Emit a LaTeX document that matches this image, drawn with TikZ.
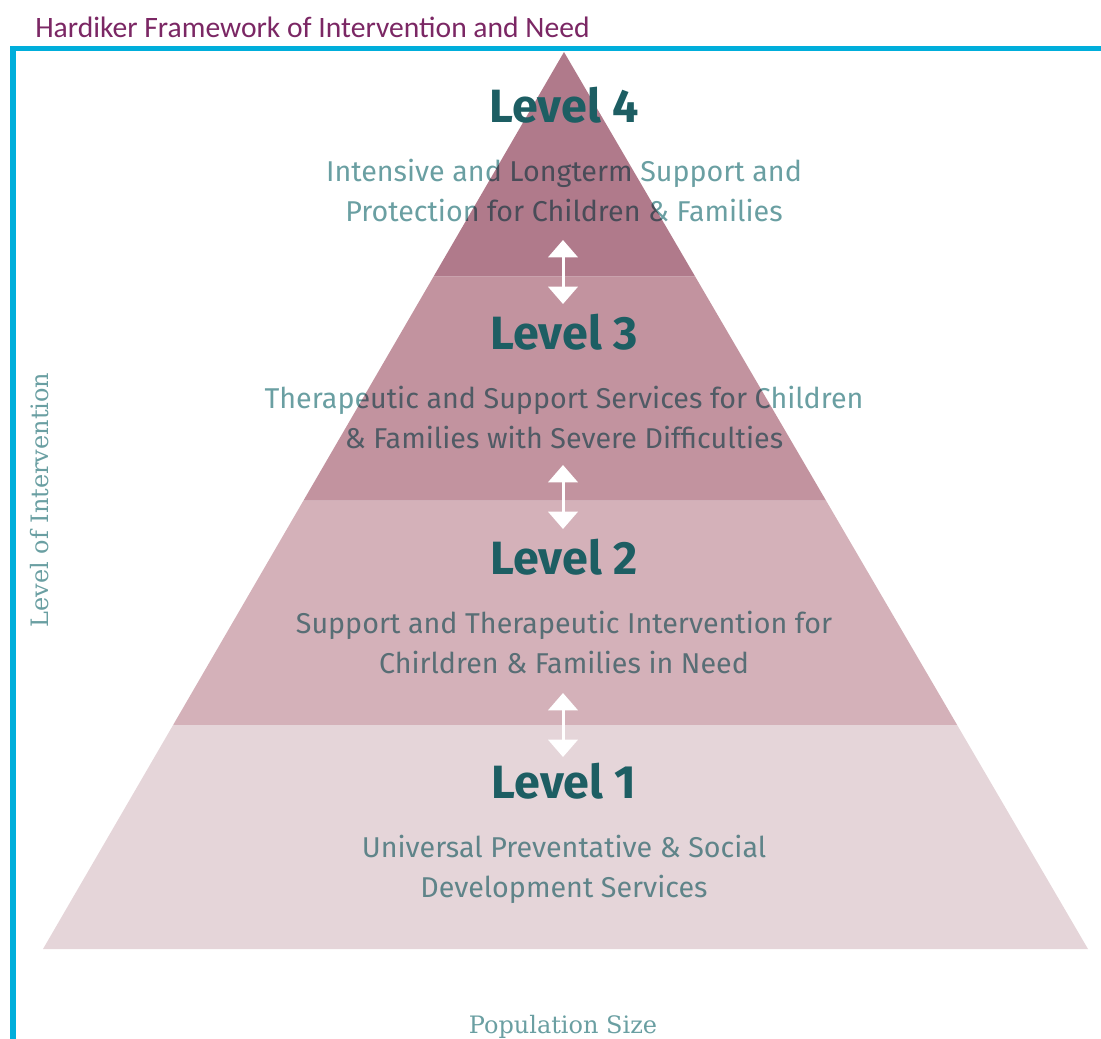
\documentclass[tikz,border=0pt]{standalone}
\usepackage{fontspec}
\setmainfont{Fira Sans}
\newfontfamily\titlefont{Carlito}
\newfontfamily\axisfont{DejaVu Serif}
\usetikzlibrary{arrows.meta, calc, positioning}

\definecolor{framecyan}{HTML}{00AEDB}
\definecolor{titlepurple}{HTML}{7B2764}
\definecolor{headteal}{HTML}{1D5E63}
\definecolor{bodyteal}{HTML}{6A9FA2}
\definecolor{levelfour}{HTML}{B07A8B}
\definecolor{levelthree}{HTML}{C2939F}
\definecolor{leveltwo}{HTML}{D4B1B9}
\definecolor{levelone}{HTML}{E5D5D9}

\tikzset{level head/.style = {font=\bfseries\fontsize{35}{42}\selectfont,
    text=headteal, inner sep=0pt}}
\tikzset{level text/.style = {font=\fontsize{21.5}{30}\selectfont,
    text=bodyteal, align=center, inner sep=0pt}}
\tikzset{axis label/.style = {font=\axisfont\fontsize{18}{22}\selectfont,
    text=bodyteal, inner sep=0pt}}
\tikzset{updown/.style = {{Triangle[width=22pt,length=13pt]}-{Triangle[width=22pt,length=13pt]},
    draw=white, line width=2.25pt}}

\begin{document}
\begin{tikzpicture}[x=0.75pt, y=-0.75pt]
  \useasboundingbox (0,0) rectangle (1101,1039);

  \node[font=\titlefont\fontsize{22.2}{26}\selectfont, text=titlepurple,
    anchor=base west, inner sep=0pt] (title) at (35,37)
    {Hardiker Framework of Intervention and Need};

  \draw[framecyan, line width=4.2pt] (13,1039) -- (13,48.5) -- (1101,48.5);

  % pyramid
  \coordinate (apex) at (564,52);
  \coordinate (baseleft) at (43,949);
  \coordinate (baseright) at (1088,949);

  \fill[levelone] ($(apex)!0.75!(baseleft)$) -- ($(apex)!0.75!(baseright)$)
    -- (baseright) -- (baseleft) -- cycle;
  \fill[leveltwo] ($(apex)!0.5!(baseleft)$) -- ($(apex)!0.5!(baseright)$)
    -- ($(apex)!0.75!(baseright)$) -- ($(apex)!0.75!(baseleft)$) -- cycle;
  \fill[levelthree] ($(apex)!0.25!(baseleft)$) -- ($(apex)!0.25!(baseright)$)
    -- ($(apex)!0.5!(baseright)$) -- ($(apex)!0.5!(baseleft)$) -- cycle;
  \fill[levelfour] (apex) -- ($(apex)!0.25!(baseright)$)
    -- ($(apex)!0.25!(baseleft)$) -- cycle;

  \node[level head] (lvlfour) at (564,105) {Level 4};
  \node[level head] (lvlthree) at (564,332) {Level 3};
  \node[level head] (lvltwo) at (564,557) {Level 2};
  \node[level head] (lvlone) at (564,781) {Level 1};

  \begin{scope}[blend mode=multiply]
    \node[level text, below = 26.5pt of lvlfour] (descfour)
      {Intensive and Longterm Support and\\Protection for Children \& Families};
    \node[level text, below = 26.5pt of lvlthree] (descthree)
      {Therapeutic and Support Services for Children\\\& Families with Severe Difficulties};
    \node[level text, below = 26.5pt of lvltwo] (desctwo)
      {Support and Therapeutic Intervention for\\Chirldren \& Families in Need};
    \node[level text, below = 26.5pt of lvlone] (descone)
      {Universal Preventative \& Social\\Development Services};
  \end{scope}

  % arrows between levels
  \coordinate (upfour) at (563,240);
  \coordinate (downthree) at (563,304);
  \coordinate (upthree) at (563,465);
  \coordinate (downtwo) at (563,529);
  \coordinate (uptwo) at (563,693);
  \coordinate (downone) at (563,757);
  \draw[updown] (upfour) -- (downthree);
  \draw[updown] (upthree) -- (downtwo);
  \draw[updown] (uptwo) -- (downone);

  \node[axis label, rotate=90] (yaxis) at (40,500) {Level of Intervention};
  \node[axis label] (xaxis) at (563,1027) {Population Size};
\end{tikzpicture}
\end{document}
